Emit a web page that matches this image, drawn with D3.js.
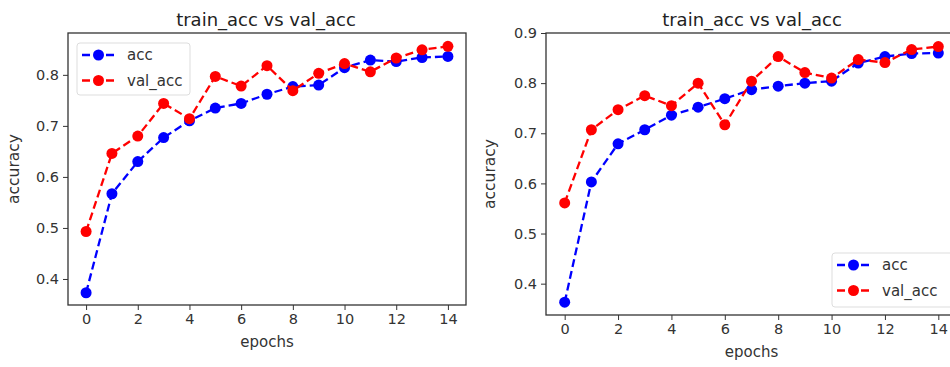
<!DOCTYPE html>
<html>
<head>
<meta charset="utf-8">
<script src="https://cdn.jsdelivr.net/npm/d3@7"></script>
<style>
  body { margin: 0; background: #fff; }
  svg { display: block; font-family: "DejaVu Sans", sans-serif; }
</style>
</head>
<body>
<div id="chart"></div>
<script>
const epochs = d3.range(0, 15)

// left run
const accA = [0.373, 0.567, 0.630, 0.677, 0.710, 0.735, 0.744, 0.762, 0.777, 0.780, 0.814, 0.829, 0.826, 0.834, 0.836]
const valAccA = [0.493, 0.646, 0.680, 0.744, 0.714, 0.797, 0.778, 0.818, 0.769, 0.803, 0.822, 0.806, 0.833, 0.849, 0.856]
const yTicksA = [0.4, 0.5, 0.6, 0.7, 0.8]

// right run
const accB = [0.363, 0.603, 0.679, 0.707, 0.736, 0.752, 0.769, 0.787, 0.794, 0.800, 0.804, 0.840, 0.853, 0.859, 0.860]
const valAccB = [0.561, 0.707, 0.747, 0.775, 0.755, 0.800, 0.717, 0.804, 0.853, 0.821, 0.810, 0.847, 0.841, 0.867, 0.873]
const yTicksB = [0.4, 0.5, 0.6, 0.7, 0.8, 0.9]

const xTicks = [0, 2, 4, 6, 8, 10, 12, 14]
const seriesNames = ["acc", "val_acc"]
const colors = ["#0000ff", "#ff0000"]

const width = 950, height = 367

const svg = d3.select("#chart").append("svg")
  .attr("width", width)
  .attr("height", height)

const panels = [
  { left: 68, right: 466, top: 33, bottom: 305, ydom: [0.349, 0.882], yTicks: yTicksA,
    data: [accA, valAccA], legend: { x: 77, y: 43, w: 113, h: 52 }, ylabX: 19, titleX: 266 },
  { left: 546, right: 957, top: 33, bottom: 315, ydom: [0.3375, 0.9], yTicks: yTicksB,
    data: [accB, valAccB], legend: { x: 832, y: 253, w: 125, h: 54 }, ylabX: 495, titleX: 752 }
]

panels.forEach(p => {
  const x = d3.scaleLinear().domain([-0.7, 14.7]).range([p.left, p.right])
  const y = d3.scaleLinear().domain(p.ydom).range([p.bottom, p.top])
  const g = svg.append("g")

  // title
  g.append("text")
    .attr("x", p.titleX)
    .attr("y", 26)
    .attr("text-anchor", "middle")
    .attr("font-size", 18)
    .attr("fill", "#222")
    .text("train_acc vs val_acc")

  // lines + markers
  p.data.forEach((vals, si) => {
    const line = d3.line().x((d, i) => x(epochs[i])).y(d => y(d))
    g.append("path")
      .datum(vals)
      .attr("d", line)
      .attr("fill", "none")
      .attr("stroke", colors[si])
      .attr("stroke-width", 2.3)
      .attr("stroke-dasharray", "8,4")
    g.selectAll(null).data(vals).enter().append("circle")
      .attr("cx", (d, i) => x(epochs[i]))
      .attr("cy", d => y(d))
      .attr("r", 5.5)
      .attr("fill", colors[si])
  })

  // axes
  const xAxis = g.append("g")
    .attr("transform", `translate(0,${p.bottom})`)
    .call(d3.axisBottom(x).tickValues(xTicks).tickSize(5).tickPadding(4))
  const yAxis = g.append("g")
    .attr("transform", `translate(${p.left},0)`)
    .call(d3.axisLeft(y).tickValues(p.yTicks).tickFormat(d3.format(".1f")).tickSize(5).tickPadding(4))
  ;[xAxis, yAxis].forEach(a => {
    a.select(".domain").remove()
    a.selectAll("line").attr("stroke", "#333")
    a.selectAll("text").attr("font-size", 14.5).attr("fill", "#333").attr("font-family", "DejaVu Sans, sans-serif")
  })

  // frame
  g.append("rect")
    .attr("x", p.left).attr("y", p.top)
    .attr("width", p.right - p.left).attr("height", p.bottom - p.top)
    .attr("fill", "none").attr("stroke", "#333").attr("stroke-width", 1.3)

  // axis labels
  g.append("text")
    .attr("x", x(7)).attr("y", p.bottom + 42)
    .attr("text-anchor", "middle").attr("font-size", 15).attr("fill", "#333")
    .text("epochs")
  g.append("text")
    .attr("transform", `translate(${p.ylabX},${(p.top + p.bottom) / 2}) rotate(-90)`)
    .attr("text-anchor", "middle").attr("font-size", 15.5).attr("fill", "#333")
    .text("accuracy")

  // legend
  const L = p.legend
  const lg = g.append("g")
  lg.append("rect")
    .attr("x", L.x).attr("y", L.y).attr("width", L.w).attr("height", L.h)
    .attr("rx", 3).attr("fill", "#fff").attr("fill-opacity", 0.85)
    .attr("stroke", "#ddd")
  seriesNames.forEach((name, i) => {
    const cy = L.y + 12 + i * 25.5
    lg.append("line")
      .attr("x1", L.x + 5).attr("x2", L.x + 38)
      .attr("y1", cy).attr("y2", cy)
      .attr("stroke", colors[i]).attr("stroke-width", 2.3).attr("stroke-dasharray", "8,4")
    lg.append("circle")
      .attr("cx", L.x + 21.5).attr("cy", cy).attr("r", 5.5).attr("fill", colors[i])
    lg.append("text")
      .attr("x", L.x + 50).attr("y", cy).attr("dy", "0.35em")
      .attr("font-size", 15).attr("fill", "#333")
      .text(name)
  })
})
</script>
</body>
</html>
